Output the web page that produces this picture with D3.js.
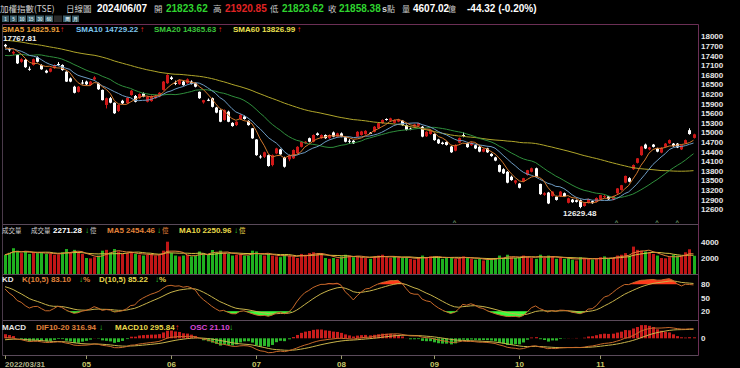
<!DOCTYPE html>
<html>
<head>
<meta charset="utf-8">
<script src="https://cdn.jsdelivr.net/npm/d3@7"></script>
<style>
html, body { margin: 0; padding: 0; background: #000; }
svg { display: block; }
text { font-family: "Liberation Sans", Arial, sans-serif; font-weight: bold; }
.cjk { font-family: "Noto Sans CJK TC", sans-serif; font-weight: normal; }
</style>
</head>
<body>
<div id="chart"></div>
<script>
// closes before the first visible bar (needed to warm up the moving averages)
const prevCloses = [
   18196, 18196, 18219,
   18270, 18368, 18500, 18367, 18169, 18239, 18288, 18436, 18403, 18525,
   18415, 18378, 18227, 18218, 17899, 17980, 17701, 17701, 17674,
   17969, 17966, 18127, 18338, 18310, 18036, 17997, 18231, 18268, 18232,
   18221, 17969, 18055, 17594, 17652,
   17934, 17759, 17717, 17737, 17178, 16825, 17090, 17431, 17264, 17208,
   16926, 17099, 17399, 17434, 17504, 17579, 17631, 17629, 17676, 17547,
   17553, 17749
];

// daily bars [open, high, low, close], 2022/03/31 onwards
const ohlc = [
   [17740,17768,17650,17693],[17600,17650,17520,17580],[17470,17560,17420,17520],[17420,17440,17140,17160],
   [17210,17320,17180,17290],[17270,17290,17020,17040],[16990,17060,16930,16980],[17110,17310,17090,17290],
   [17350,17380,17190,17210],[17110,17130,16960,16975],[16930,16960,16850,16870],[16900,17020,16880,17000],
   [17010,17130,16990,17110],[17140,17200,17080,17130],[17110,17130,16930,16950],[16900,16910,16580,16590],
   [16690,16720,16570,16590],[16430,16460,16220,16240],[16270,16450,16250,16430],[16560,16640,16500,16555],
   // 05
   [16590,16620,16480,16505],[16480,16610,16460,16590],[16660,16760,16640,16720],[16540,16560,16330,16350],
   [16330,16340,16000,16010],[15860,16090,15750,16070],[16070,16110,15910,15930],[15930,15940,15580,15600],
   [15670,15880,15640,15860],[15990,16020,15890,15910],[15910,16100,15890,16085],[16170,16330,16150,16305],
   [16140,16170,15940,15960],[16070,16220,16050,16200],[16220,16250,16100,16120],[15960,16140,15940,16120],
   [15980,16160,15960,16140],[16070,16170,16050,16140],[16120,16260,16100,16240],[16330,16610,16310,16590],
   [16540,16820,16520,16800],
   // 06
   [16720,16760,16640,16670],[16550,16620,16480,16540],[16510,16660,16490,16640],[16590,16620,16460,16480],
   [16540,16690,16520,16660],[16590,16630,16500,16520],[16540,16560,16410,16430],[16270,16280,16050,16070],
   [15940,16020,15900,16010],[16020,16060,15980,16000],[16070,16090,15780,15800],[15780,15800,15600,15620],
   [15700,15720,15320,15335],[15390,15720,15370,15700],[15650,15680,15320,15335],[15300,15320,15180,15200],
   [15230,15350,15200,15335],[15420,15570,15400,15550],[15500,15530,15400,15420],[15360,15380,15210,15230],
   [15130,15140,14800,14815],
   // 07
   [14780,14790,14270,14290],[14250,14300,14180,14240],[14240,14400,14200,14380],[14290,14310,13930,13950],
   [13980,14310,13940,14290],[14345,14520,14320,14500],[14470,14490,14300,14315],[14220,14240,13900,13928],
   [14160,14310,14100,14290],[14190,14470,14170,14450],[14350,14570,14330,14550],[14550,14730,14530,14710],
   [14660,14730,14640,14710],[14820,14840,14690,14710],[14710,14940,14690,14920],[14970,15000,14900,14920],
   [14820,14940,14800,14920],[14920,14940,14800,14820],[14820,14940,14800,14920],[15000,15030,14850,14870],
   [14870,14990,14850,14970],
   // 08
   [14970,15000,14850,14870],[14850,14870,14690,14710],[14740,14790,14640,14730],[14740,14760,14640,14660],
   [14870,15040,14850,15020],[14920,15050,14900,15030],[14950,15070,14930,15050],[14990,15010,14950,14970],
   [15020,15200,15000,15180],[15130,15310,15110,15290],[15290,15410,15270,15390],[15420,15440,15370,15390],
   [15370,15460,15350,15440],[15300,15410,15280,15390],[15340,15430,15320,15410],[15370,15390,15210,15230],
   [15230,15250,15060,15080],[15120,15150,15070,15090],[15180,15270,15160,15250],[15210,15300,15190,15290],
   [15180,15200,14850,14870],[14880,15040,14860,15020],[14950,15070,14930,15050],
   // 09
   [14950,14970,14740,14760],[14780,14800,14640,14660],[14680,14710,14620,14640],[14700,14720,14590,14610],
   [14560,14580,14360,14380],[14430,14630,14410,14610],[14680,14840,14660,14820],[14920,15000,14850,14910],
   [14660,14680,14520,14540],[14600,14700,14580,14680],[14600,14620,14480,14500],[14550,14570,14380,14400],
   [14400,14500,14380,14480],[14500,14520,14360,14380],[14330,14350,14240,14260],[14220,14240,14100,14120],
   [13980,14000,13750,13770],[13850,13880,13700,13720],[13770,13790,13410,13430],[13615,13650,13490,13510],
   [13430,13520,13380,13500],
   // 10
   [13400,13420,13250,13270],[13470,13580,13450,13570],[13670,13830,13650,13820],[13770,13900,13750,13880],
   [13880,13900,13590,13610],[13390,13400,13050,13070],[13050,13130,13020,13100],[13120,13140,12760,12780],
   [13010,13160,12990,13150],[12990,13020,12870,12890],[13000,13170,12980,13150],[13100,13120,12980,13000],
   [12800,12960,12780,12940],[12900,12920,12800,12820],[12880,12900,12810,12830],[12880,12900,12629,12670],
   [12700,12810,12680,12790],[12800,12930,12780,12920],[12850,12870,12770,12790],[12830,12970,12810,12950],
   // 11
   [12910,13050,12890,13040],[13000,13060,12950,13010],[13000,13010,12890,12910],[12900,13020,12880,13010],
   [13100,13260,13080,13250],[13200,13360,13180,13350],[13430,13650,13410,13640],[13570,13600,13440,13460],
   [13850,14000,13830,13980],[14050,14200,14030,14190],[14290,14580,14270,14560],[14620,14650,14480,14500],
   [14470,14550,14440,14530],[14620,14640,14530,14550],[14500,14520,14380,14400],[14370,14540,14350,14520],
   [14550,14670,14530,14650],[14660,14780,14640,14760],[14650,14670,14550,14570],[14650,14670,14510,14530],
   [14470,14610,14450,14600],[14660,14780,14640,14760],
   // 12
   [15070,15130,14930,14950],[14830,14960,14810,14940]
];

// turnover (億)
const volume = [
   2400, 2650, 3200, 2900, 2600, 2800, 2500, 2700, 2600, 2700, 2500, 2550, 2400, 2450, 2700, 3100, 2650, 3000, 2700, 2500,
   2000, 1950, 2100, 2300, 2900, 3000, 2700, 3100, 2800, 2500, 2600, 2750, 2500, 2400, 2300, 2400, 2500, 2300, 2400, 2900, 4000,
   2600, 2300, 2200, 2300, 2400, 2200, 2300, 2800, 2600, 2400, 2980, 2700, 2900, 2600, 2500, 2300, 2400, 2500, 2300, 2300, 2900,
   2800, 2400, 2300, 2500, 2300, 2200, 2100, 2400, 2300, 2200, 2000, 2500, 2400, 2600, 2700, 2500, 2600, 2000, 1900, 2000, 1900,
   2200, 2400, 2300, 2100, 2200, 2100, 2000, 1900, 2200, 2300, 2400, 2100, 2000, 2200, 2100, 2000, 2100, 1900, 1800, 2000, 2300, 2100, 2200,
   2200, 2100, 1900, 2000, 2100, 1900, 2000, 2200, 2100, 1900, 1800, 1900, 1700, 1800, 1900, 2000, 2300, 2000, 2400, 2100, 2000,
   2100, 2300, 2200, 2000, 1900, 2400, 2000, 2300, 2200, 1900, 2000, 1900, 2000, 1800, 1700, 2100, 2000, 1900, 1800, 1900,
   2100, 2200, 1900, 2000, 2300, 2400, 2600, 2300, 3400, 3000, 2900, 2800, 2700, 2500, 2300, 2000, 1960, 2100, 2400, 2300, 2200, 2700,
   3070, 2271
];

const monthTicks = [
   { i: 0, label: "2022/03/31" }, { i: 20, label: "05" }, { i: 41, label: "06" }, { i: 62, label: "07" },
   { i: 83, label: "08" }, { i: 106, label: "09" }, { i: 127, label: "10" }, { i: 147, label: "11" }
];
const priceTicks = [18000, 17700, 17400, 17100, 16800, 16500, 16200, 15900, 15600, 15300, 15000,
   14700, 14400, 14100, 13800, 13500, 13200, 12900, 12600];
const volTicks = [4000, 2000];
const kdTicks = [80, 50, 20];
const macdTicks = [0];
const extremes = [{ i: 0, v: "17767.81", pos: "top" }, { i: 142, v: "12629.48", pos: "bottom" }];
const eventMarks = [111, 151, 161, 166];
const kdStart = [78, 76];

// ---------- derived series ----------
const closes = ohlc.map(d => d[3]);
const full = prevCloses.concat(closes);
const off = prevCloses.length;

function sma(arr, n) {
   return arr.map((v, i) => d3.mean(arr.slice(Math.max(0, i - n + 1), i + 1)));
}
function ema(arr, n) {
   const a = 2 / (n + 1);
   let e = arr[0];
   return arr.map(v => (e = e + a * (v - e)));
}
const sma5 = sma(full, 5).slice(off);
const sma10 = sma(full, 10).slice(off);
const sma20 = sma(full, 20).slice(off);
const sma60 = sma(full, 60).slice(off);
const vma5 = sma(volume, 5);
const vma10 = sma(volume, 10);

// KD(10,5): 10-day RSV, smoothed with weight 1/5
const K = [], D = [];
let k = kdStart[0], dv = kdStart[1];
ohlc.forEach((b, i) => {
   const win = ohlc.slice(Math.max(0, i - 9), i + 1);
   const hh = d3.max(win, w => w[1]), ll = d3.min(win, w => w[2]);
   const rsv = hh === ll ? 50 : (b[3] - ll) / (hh - ll) * 100;
   k = k * 4 / 5 + rsv / 5;
   dv = dv * 4 / 5 + k / 5;
   K.push(k); D.push(dv);
});

// MACD: DIF = EMA10 - EMA20, signal = EMA10 of DIF
const e10 = ema(full, 10), e20 = ema(full, 20);
const difFull = e10.map((v, i) => v - e20[i]);
const sigFull = ema(difFull, 10);
const dif = difFull.slice(off), sig = sigFull.slice(off);
const osc = dif.map((v, i) => v - sig[i]);

// ---------- drawing ----------
const W = 740, H = 368;
const L = 2.5, R = 698.5;
const panels = { main: [24.5, 224.5], vol: [224.5, 274.5], kd: [274.5, 320.5], macd: [320.5, 355.5] };

const svg = d3.select("#chart").append("svg")
   .attr("width", W).attr("height", H)
   .style("background", "#000");

const x = d3.scaleLinear().domain([0, ohlc.length - 1]).range([5, 693.5]);
const yP = d3.scaleLinear().domain([12600, 18000]).range([209.2, 36.5]);
const yV = d3.scaleLinear().domain([0, 4000]).range([274.3, 241.7]);
const yK = d3.scaleLinear().domain([0, 100]).range([320.3, 275.3]);
const yM = d3.scaleLinear().domain([-540, 540]).range([355.3, 321.3]);

const defs = svg.append("defs");
Object.entries(panels).forEach(([name, [t, b]]) => {
   defs.append("clipPath").attr("id", "clip-" + name)
      .append("rect").attr("x", L + 0.5).attr("y", t + 0.5).attr("width", R - L - 1).attr("height", b - t - 1);
});

const px = i => Math.round(x(i));

// ----- header -----
const header = svg.append("g").attr("font-size", 10);
function htext(str, xx, color, cls, size) {
   header.append("text").attr("x", xx).attr("y", 11.5).attr("fill", color)
      .attr("class", cls || null).attr("font-size", size || null).text(str);
}
htext("加權指數(TSE)", 0, "#d2d2d2", "cjk", 8.5);
htext("日線圖", 66, "#d2d2d2", "cjk", 8.5);
htext("2024/06/07", 97, "#ffffff");
htext("開", 154, "#c8c8c8", "cjk", 8.5);
htext("21823.62", 166, "#2fd42f");
htext("高", 213, "#c8c8c8", "cjk", 8.5);
htext("21920.85", 225, "#e02424");
htext("低", 270, "#c8c8c8", "cjk", 8.5);
htext("21823.62", 282, "#2fd42f");
htext("收", 328, "#c8c8c8", "cjk", 8.5);
htext("21858.38", 339, "#2fd42f");
htext("s", 382, "#d2d2d2", null, 9);
htext("點", 387, "#c8c8c8", "cjk", 8);
htext("量", 402, "#c8c8c8", "cjk", 8);
htext("4607.02", 413, "#ffffff");
htext("億", 448, "#c8c8c8", "cjk", 8);
htext("-44.32 (-0.20%)", 467, "#ffffff");

// small period buttons
const buttons = [
   { t: "1", x: 2, w: 7 }, { t: "5", x: 10, w: 7 }, { t: "10", x: 18, w: 8 }, { t: "15", x: 27, w: 8 },
   { t: "30", x: 36, w: 8 }, { t: "60", x: 45, w: 8 }, { t: "", x: 54, w: 8 }, { t: "周", x: 63, w: 8 }, { t: "月", x: 72, w: 7 }
];
const bg = svg.append("g");
bg.selectAll("rect").data(buttons).join("rect")
   .attr("x", d => d.x).attr("y", 15.5).attr("width", d => d.w).attr("height", 6.5)
   .attr("fill", d => d.t ? "#3e5f6a" : "#2a2a2a");
bg.selectAll("text").data(buttons).join("text")
   .attr("x", d => d.x + d.w / 2).attr("y", 20.8).attr("text-anchor", "middle")
   .attr("font-size", 4.5).attr("fill", "#cfe3ea").text(d => d.t);

// ----- frames -----
const frame = svg.append("g").attr("stroke", "#6b2f55").attr("stroke-width", 1).attr("fill", "none");
frame.append("line").attr("x1", L).attr("x2", R).attr("y1", panels.main[0]).attr("y2", panels.main[0]);
[panels.vol[0], panels.kd[0], panels.macd[0], panels.macd[1]].forEach(yy => {
   frame.append("line").attr("x1", L).attr("x2", R).attr("y1", yy).attr("y2", yy).attr("stroke", "#5a4a5a");
});
frame.append("line").attr("x1", L).attr("x2", L).attr("y1", panels.main[0]).attr("y2", panels.macd[1]).attr("stroke", "#4a3a4a");
frame.append("line").attr("x1", R).attr("x2", R).attr("y1", panels.main[0]).attr("y2", panels.macd[1]);

// ----- main price panel -----
const gMain = svg.append("g").attr("clip-path", "url(#clip-main)");
const upCol = "#d01818", dnCol = "#ffffff";
gMain.selectAll("line.wick").data(ohlc).join("line").attr("class", "wick")
   .attr("x1", (d, i) => px(i) + 0.5).attr("x2", (d, i) => px(i) + 0.5)
   .attr("y1", d => yP(d[1])).attr("y2", d => yP(d[2]))
   .attr("stroke", d => d[3] >= d[0] ? upCol : dnCol).attr("stroke-width", 1);
gMain.selectAll("rect.body").data(ohlc).join("rect").attr("class", "body")
   .attr("x", (d, i) => px(i) - 1).attr("width", 3)
   .attr("y", d => yP(Math.max(d[0], d[3])))
   .attr("height", d => Math.max(1, Math.abs(yP(d[0]) - yP(d[3]))))
   .attr("fill", d => d[3] >= d[0] ? upCol : dnCol);

const priceLine = d3.line().x((d, i) => x(i)).y(d => yP(d));
const maSeries = [
   { data: sma60, color: "#b0a62a" },
   { data: sma20, color: "#2f8f3c" },
   { data: sma10, color: "#6d9cc4" },
   { data: sma5, color: "#d2782d" }
];
gMain.selectAll("path.ma").data(maSeries).join("path").attr("class", "ma")
   .attr("d", d => priceLine(d.data)).attr("fill", "none")
   .attr("stroke", d => d.color).attr("stroke-width", 1);

// extreme labels
svg.append("g").selectAll("text").data(extremes).join("text")
   .attr("x", d => d.pos === "top" ? 3 : px(d.i) - 17)
   .attr("y", d => d.pos === "top" ? yP(ohlc[d.i][1]) - 2.5 : yP(ohlc[d.i][2]) + 7.5)
   .attr("font-size", 8).attr("fill", "#f0f0f0").text(d => d.v);

// event markers
svg.append("g").selectAll("text").data(eventMarks).join("text")
   .attr("x", i => x(i)).attr("y", 224).attr("text-anchor", "middle")
   .attr("font-size", 6).attr("fill", "#6f9a6f").text("^");

// main legend
const legend = (g, items, yy) => {
   items.forEach(it => {
      g.append("text").attr("x", it.x).attr("y", yy).attr("fill", it.c)
         .attr("class", it.cjk ? "cjk" : null)
         .attr("font-size", it.s || 8).text(it.t);
   });
};
const gLeg = svg.append("g");
legend(gLeg, [
   { t: "SMA5 14825.91", x: 2, c: "#eba03c" }, { t: "↑", x: 60, c: "#ff2a2a" },
   { t: "SMA10 14729.22", x: 76, c: "#7cc6ee" }, { t: "↑", x: 140, c: "#ff2a2a" },
   { t: "SMA20 14365.63", x: 154, c: "#3cc83c" }, { t: "↑", x: 218, c: "#ff2a2a" },
   { t: "SMA60 13826.99", x: 233, c: "#ece050" }, { t: "↑", x: 297, c: "#ff2a2a" }
], 32);

// price axis labels
svg.append("g").selectAll("text").data(priceTicks).join("text")
   .attr("x", 701).attr("y", d => yP(d) + 2.9)
   .attr("font-size", 8).attr("fill", "#e6e6e6").text(d => d);

// ----- volume panel -----
const gVol = svg.append("g").attr("clip-path", "url(#clip-vol)");
gVol.selectAll("rect").data(volume).join("rect")
   .attr("x", (d, i) => px(i) - 1).attr("width", 3)
   .attr("y", d => yV(d)).attr("height", d => yV(0) - yV(d))
   .attr("fill", (d, i) => closes[i] >= (i ? closes[i - 1] : prevCloses[off - 1]) ? "#c01616" : "#1fb01f");
const volLine = d3.line().x((d, i) => x(i)).y(d => yV(d));
gVol.append("path").attr("d", volLine(vma10)).attr("fill", "none").attr("stroke", "#d8c440").attr("stroke-width", 1);
gVol.append("path").attr("d", volLine(vma5)).attr("fill", "none").attr("stroke", "#e0823a").attr("stroke-width", 1);
legend(svg.append("g"), [
   { t: "成交量", x: 2, c: "#d2d2d2", cjk: 1, s: 6.5 },
   { t: "成交量", x: 31, c: "#d2d2d2", cjk: 1, s: 6.5 },
   { t: "2271.28", x: 53, c: "#ffffff" }, { t: "↓", x: 85, c: "#2fd42f" }, { t: "億", x: 90, c: "#c8c8c8", cjk: 1, s: 6.5 },
   { t: "MA5 2454.46", x: 107, c: "#e0823a" }, { t: "↓", x: 157, c: "#2fd42f" }, { t: "億", x: 162, c: "#e0823a", cjk: 1, s: 6.5 },
   { t: "MA10 2250.96", x: 179, c: "#e8d84a" }, { t: "↓", x: 234, c: "#2fd42f" }, { t: "億", x: 239, c: "#e8d84a", cjk: 1, s: 6.5 }
], 232.5);
svg.append("g").selectAll("text").data(volTicks).join("text")
   .attr("x", 701).attr("y", d => yV(d) + 2.9).attr("font-size", 8).attr("fill", "#e6e6e6").text(d => d);

// ----- KD panel -----
const gKD = svg.append("g").attr("clip-path", "url(#clip-kd)");
const hot = d3.area().x((d, i) => x(i)).y0(yK(80)).y1(d => yK(Math.max(80, d)));
const cold = d3.area().x((d, i) => x(i)).y0(yK(20)).y1(d => yK(Math.min(20, d)));
gKD.append("path").attr("d", hot(K)).attr("fill", "#ff3a1a");
gKD.append("path").attr("d", cold(K)).attr("fill", "#3cff3c");
const kdLine = d3.line().x((d, i) => x(i)).y(d => yK(d));
gKD.append("path").attr("d", kdLine(D)).attr("fill", "none").attr("stroke", "#c8b44a").attr("stroke-width", 1);
gKD.append("path").attr("d", kdLine(K)).attr("fill", "none").attr("stroke", "#c8692a").attr("stroke-width", 1);
legend(svg.append("g"), [
   { t: "KD", x: 2, c: "#e6e6e6" },
   { t: "K(10,5) 83.10", x: 22, c: "#e0823a" }, { t: "↓", x: 79, c: "#2fd42f" }, { t: "%", x: 83, c: "#e0823a" },
   { t: "D(10,5) 85.22", x: 99, c: "#e8d84a" }, { t: "↓", x: 155, c: "#2fd42f" }, { t: "%", x: 159, c: "#e8d84a" }
], 282);
svg.append("g").selectAll("text").data(kdTicks).join("text")
   .attr("x", 701).attr("y", d => yK(d) + 2.9).attr("font-size", 8).attr("fill", "#e6e6e6").text(d => d);

// ----- MACD panel -----
const gM = svg.append("g").attr("clip-path", "url(#clip-macd)");
// histogram shows 2 x OSC on the DIF scale
gM.selectAll("rect").data(osc).join("rect")
   .attr("x", (d, i) => px(i) - 1).attr("width", 3)
   .attr("y", d => Math.min(yM(0), yM(2 * d)))
   .attr("height", d => Math.abs(yM(2 * d) - yM(0)))
   .attr("fill", d => d >= 0 ? "#c81c1c" : "#2cb82c");
const mLine = d3.line().x((d, i) => x(i)).y(d => yM(d));
gM.append("path").attr("d", mLine(sig)).attr("fill", "none").attr("stroke", "#c8b44a").attr("stroke-width", 1);
gM.append("path").attr("d", mLine(dif)).attr("fill", "none").attr("stroke", "#c8692a").attr("stroke-width", 1);
legend(svg.append("g"), [
   { t: "MACD", x: 2, c: "#e6e6e6" },
   { t: "DIF10-20 316.94", x: 36, c: "#e0823a" }, { t: "↓", x: 99, c: "#2fd42f" },
   { t: "MACD10 295.84", x: 115, c: "#e8d84a" }, { t: "↑", x: 175, c: "#ff2a2a" },
   { t: "OSC 21.10", x: 190, c: "#d848d8" }, { t: "↓", x: 229, c: "#2fd42f" }
], 330);
svg.append("g").selectAll("text").data(macdTicks).join("text")
   .attr("x", 701).attr("y", d => yM(d) + 2.9).attr("font-size", 8).attr("fill", "#e6e6e6").text(d => d);

// ----- time axis -----
const gx = svg.append("g");
gx.selectAll("line").data(monthTicks).join("line")
   .attr("x1", d => px(d.i) + 0.5).attr("x2", d => px(d.i) + 0.5)
   .attr("y1", 355.5).attr("y2", 359).attr("stroke", "#9a9a6a");
gx.selectAll("text").data(monthTicks).join("text")
   .attr("x", d => d.i === 0 ? px(d.i) : px(d.i) + 0.5)
   .attr("y", 366.5)
   .attr("text-anchor", d => d.i === 0 ? "start" : "middle")
   .attr("font-size", 8)
   .attr("fill", d => d.i === 0 ? "#b4b48c" : "#c8c86a")
   .text(d => d.label);
</script>
</body>
</html>
